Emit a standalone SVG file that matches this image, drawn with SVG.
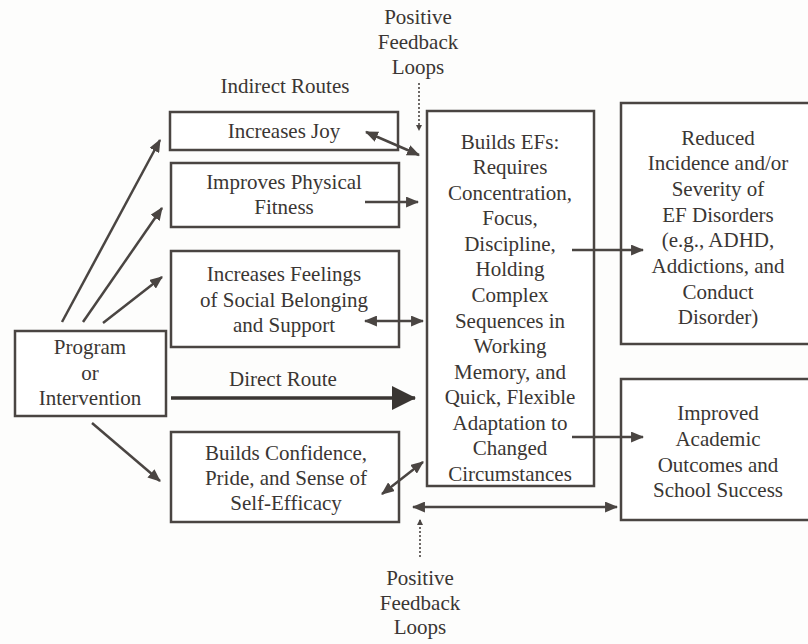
<svg xmlns="http://www.w3.org/2000/svg" width="808" height="644" viewBox="0 0 808 644">
<defs>
<style>
text{font-family:"Liberation Serif","Times New Roman",serif;font-size:21px;fill:#3a3633;text-anchor:middle}
.box{fill:#fff;stroke:#4a4542;stroke-width:2.5}
.ln{fill:none;stroke:#4a4542;stroke-width:2.5}
.dot{fill:none;stroke:#4a4542;stroke-width:1.6;stroke-dasharray:2 2}
</style>
<marker id="ah" viewBox="0 0 12 10" refX="11" refY="5" markerWidth="13" markerHeight="11" markerUnits="userSpaceOnUse" orient="auto-start-reverse"><path d="M0,0L12,5L0,10z" fill="#4a4542"/></marker>
<marker id="big" viewBox="0 0 24 24" refX="23" refY="12" markerWidth="24" markerHeight="24" markerUnits="userSpaceOnUse" orient="auto"><path d="M0,0L24,12L0,24z" fill="#3a3633"/></marker>
<marker id="sm" viewBox="0 0 6 6" refX="5" refY="3" markerWidth="6" markerHeight="6" markerUnits="userSpaceOnUse" orient="auto"><path d="M0,0L6,3L0,6z" fill="#4a4542"/></marker>
</defs>
<rect width="808" height="644" fill="#fdfdfc"/>
<g id="labels">
<text x="418" y="24">Positive</text>
<text x="418" y="49">Feedback</text>
<text x="418" y="74">Loops</text>
<text x="285" y="93">Indirect Routes</text>
<text x="283" y="386">Direct Route</text>
<text x="420" y="585">Positive</text>
<text x="420" y="610">Feedback</text>
<text x="420" y="634">Loops</text>
</g>
<g id="joy"><rect class="box" x="170" y="112" width="228" height="38"/><text x="284" y="138">Increases Joy</text></g>
<g id="fitness"><rect class="box" x="171" y="163" width="228" height="64"/><text x="284" y="189">Improves Physical</text><text x="284" y="214">Fitness</text></g>
<g id="social"><rect class="box" x="171" y="251" width="228" height="96"/><text x="284" y="281">Increases Feelings</text><text x="284" y="307">of Social Belonging</text><text x="284" y="332">and Support</text></g>
<g id="program"><rect class="box" x="15" y="331" width="151" height="85"/><text x="90" y="354">Program</text><text x="90" y="380">or</text><text x="90" y="405">Intervention</text></g>
<g id="confidence"><rect class="box" x="171" y="432" width="228" height="90"/><text x="286" y="460">Builds Confidence,</text><text x="286" y="485">Pride, and Sense of</text><text x="286" y="510">Self-Efficacy</text></g>
<g id="efs"><rect class="box" x="427" y="111" width="167" height="375"/>
<text x="510" y="149">Builds EFs:</text><text x="510" y="174">Requires</text><text x="510" y="200">Concentration,</text><text x="510" y="225">Focus,</text><text x="510" y="251">Discipline,</text><text x="510" y="276">Holding</text><text x="510" y="302">Complex</text><text x="510" y="328">Sequences in</text><text x="510" y="353">Working</text><text x="510" y="379">Memory, and</text><text x="510" y="404">Quick, Flexible</text><text x="510" y="430">Adaptation to</text><text x="510" y="455">Changed</text><text x="510" y="481">Circumstances</text></g>
<g id="reduced"><rect class="box" x="621" y="103" width="192" height="241"/>
<text x="718" y="145">Reduced</text><text x="718" y="170">Incidence and/or</text><text x="718" y="196">Severity of</text><text x="718" y="222">EF Disorders</text><text x="718" y="247">(e.g., ADHD,</text><text x="718" y="273">Addictions, and</text><text x="718" y="299">Conduct</text><text x="718" y="324">Disorder)</text></g>
<g id="academic"><rect class="box" x="621" y="379" width="192" height="141"/>
<text x="718" y="420">Improved</text><text x="718" y="446">Academic</text><text x="718" y="472">Outcomes and</text><text x="718" y="497">School Success</text></g>
<g id="connectors">
<line class="ln" x1="62" y1="322" x2="160" y2="140" marker-end="url(#ah)"/>
<line class="ln" x1="83" y1="322" x2="162" y2="208" marker-end="url(#ah)"/>
<line class="ln" x1="103" y1="323" x2="162" y2="277" marker-end="url(#ah)"/>
<line class="ln" x1="92" y1="423" x2="160" y2="481" marker-end="url(#ah)"/>
<line class="ln" x1="366" y1="132" x2="419" y2="155" marker-start="url(#ah)" marker-end="url(#ah)"/>
<line class="ln" x1="365" y1="202" x2="418" y2="202" marker-end="url(#ah)"/>
<line class="ln" x1="365" y1="321" x2="423" y2="321" marker-start="url(#ah)" marker-end="url(#ah)"/>
<line x1="171" y1="398" x2="415" y2="398" stroke="#3a3633" stroke-width="3.5" marker-end="url(#big)"/>
<line class="ln" x1="382" y1="494" x2="423" y2="462" marker-start="url(#ah)" marker-end="url(#ah)"/>
<line class="ln" x1="413" y1="507" x2="617" y2="507" marker-start="url(#ah)" marker-end="url(#ah)"/>
<line class="ln" x1="572" y1="250" x2="643" y2="250" marker-end="url(#ah)"/>
<line class="ln" x1="572" y1="437" x2="643" y2="437" marker-end="url(#ah)"/>
<line class="dot" x1="419" y1="83" x2="419" y2="130" marker-end="url(#sm)"/>
<line class="dot" x1="420" y1="557" x2="420" y2="520" marker-end="url(#sm)"/>
</g>
</svg>
